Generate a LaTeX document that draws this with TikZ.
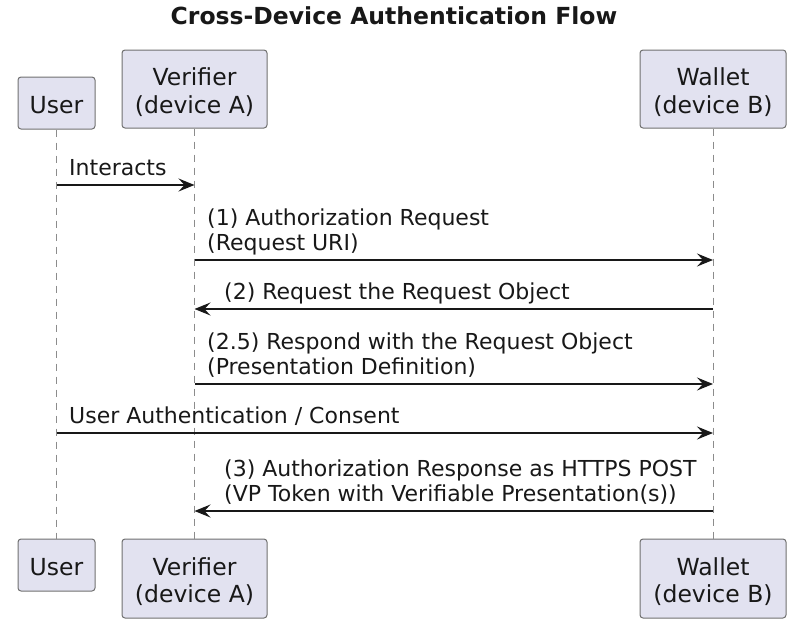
\documentclass[tikz,border=0pt]{standalone}
\usepackage{fontspec}
\setmainfont{DejaVu Sans}
\usetikzlibrary{arrows.meta}
\definecolor{partfill}{HTML}{E2E2F0}
\definecolor{ink}{HTML}{181818}
\definecolor{boxline}{HTML}{707070}
\definecolor{lifecol}{HTML}{8C8C8C}
\newcommand{\pstrut}{\rule[-3pt]{0pt}{27.5pt}}
\newcommand{\mstrut}{\rule[-5pt]{0pt}{25pt}}
\begin{document}
\begin{tikzpicture}[x=1pt,y=-1pt,
  participant/.style={draw=boxline, line width=1pt, fill=partfill, rounded corners=3pt,
    inner sep=0pt, align=center, text=ink,
    font=\fontsize{23.5}{27.5}\selectfont},
  lifeline/.style={draw=lifecol, line width=1pt, dash pattern=on 7pt off 6pt},
  msg/.style={draw=ink, line width=1.5pt, -{Stealth[length=16pt, width=13pt, inset=6pt]}},
  msglabel/.style={anchor=south west, inner sep=0pt, align=left, text=ink,
    font=\fontsize{22}{25}\selectfont},
  titlestyle/.style={anchor=base, inner sep=0pt, text=ink,
    font=\fontsize{23.5}{28}\selectfont\bfseries}
]
\useasboundingbox (0,0) rectangle (788,619);

\node[titlestyle] (title) at (394,24) {Cross-Device Authentication Flow};

% participants (top)
\node[participant, minimum width=77pt, minimum height=52pt] (userT) at (56.5,103) {\pstrut User};
\node[participant, minimum width=145pt, minimum height=78pt] (verT) at (194.5,89) {\pstrut Verifier\\\pstrut(device A)};
\node[participant, minimum width=146pt, minimum height=78pt] (walT) at (713,89) {\pstrut Wallet\\\pstrut(device B)};
% participants (bottom)
\node[participant, minimum width=77pt, minimum height=52pt] (userB) at (56.5,565) {\pstrut User};
\node[participant, minimum width=145pt, minimum height=79pt] (verB) at (194.5,578.5) {\pstrut Verifier\\\pstrut(device A)};
\node[participant, minimum width=146pt, minimum height=79pt] (walB) at (713,578.5) {\pstrut Wallet\\\pstrut(device B)};

% lifelines
\draw[lifeline] (userT.south) -- (userB.north);
\draw[lifeline] (verT.south) -- (verB.north);
\draw[lifeline] (walT.south) -- (walB.north);

% message rows
\coordinate (r0) at (0,185);
\coordinate (r1) at (0,260);
\coordinate (r2) at (0,309);
\coordinate (r3) at (0,384);
\coordinate (r4) at (0,433);
\coordinate (r5) at (0,511);

\draw[msg] (userT.south |- r0) -- (verT.south |- r0);
\node[msglabel] (l0) at (69,181) {\mstrut Interacts};

\draw[msg] (verT.south |- r1) -- (walT.south |- r1);
\node[msglabel] (l1) at (207,256) {\mstrut(1) Authorization Request\\\mstrut(Request URI)};

\draw[msg] (walT.south |- r2) -- (verT.south |- r2);
\node[msglabel] (l2) at (224,305) {\mstrut(2) Request the Request Object};

\draw[msg] (verT.south |- r3) -- (walT.south |- r3);
\node[msglabel] (l3) at (207,380) {\mstrut(2.5) Respond with the Request Object\\\mstrut(Presentation Definition)};

\draw[msg] (userT.south |- r4) -- (walT.south |- r4);
\node[msglabel] (l4) at (69,429) {\mstrut User Authentication / Consent};

\draw[msg] (walT.south |- r5) -- (verT.south |- r5);
\node[msglabel] (l5) at (224,507) {\mstrut(3) Authorization Response as HTTPS POST\\\mstrut(VP Token with Verifiable Presentation(s))};
\end{tikzpicture}
\end{document}
